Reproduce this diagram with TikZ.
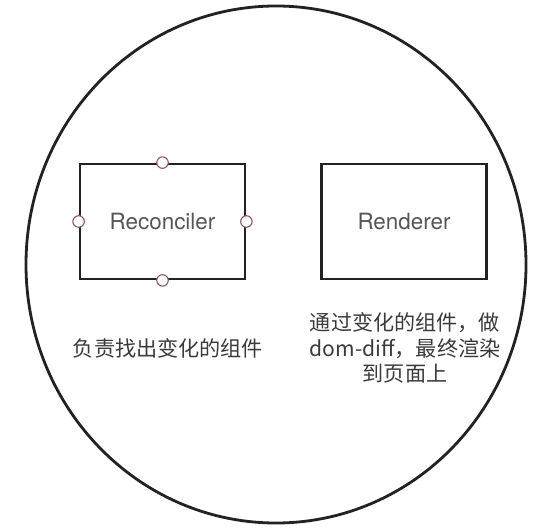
\documentclass[tikz,border=0pt]{standalone}
\usepackage{fontspec}
\setmainfont{TeX Gyre Heros}
\newfontfamily\cjk{Noto Sans CJK SC}
\definecolor{boxline}{HTML}{222222}
\definecolor{txtgray}{HTML}{555555}
\definecolor{cjkgray}{HTML}{3A3A3A}
\definecolor{portred}{HTML}{8A5A60}
\begin{document}
\begin{tikzpicture}[x=1bp,y=-1bp,
  comp/.style={draw=boxline,line width=2.8bp,minimum width=165bp,minimum height=115bp,inner sep=0pt,
     font=\fontsize{22.5}{26}\selectfont,text=txtgray},
  port/.style={circle,draw=portred,fill=white,line width=1.1bp,minimum size=11.5bp,inner sep=0pt},
  desc/.style={font=\cjk\fontsize{21.2}{26}\selectfont,text=cjkgray,align=center,inner sep=0pt}]
\useasboundingbox (0,0) rectangle (554,528);
\draw[line width=2.8bp,draw=boxline] (276,264.5) ellipse [x radius=250, y radius=258.5];
\node[comp] (rec) at (162.5,221.5) {Reconciler};
\node[comp] (ren) at (404,221.5) {Renderer};
\node[port] (pt) at (rec.north) {};
\node[port] (pb) at (rec.south) {};
\node[port] (pl) at (rec.west) {};
\node[port] (pr) at (rec.east) {};
\node[desc] (d1) at (168,348) {负责找出变化的组件};
\node[desc] (d2) at (405,348) {通过变化的组件，做\\dom-diff，最终渲染\\到页面上};
\end{tikzpicture}
\end{document}
